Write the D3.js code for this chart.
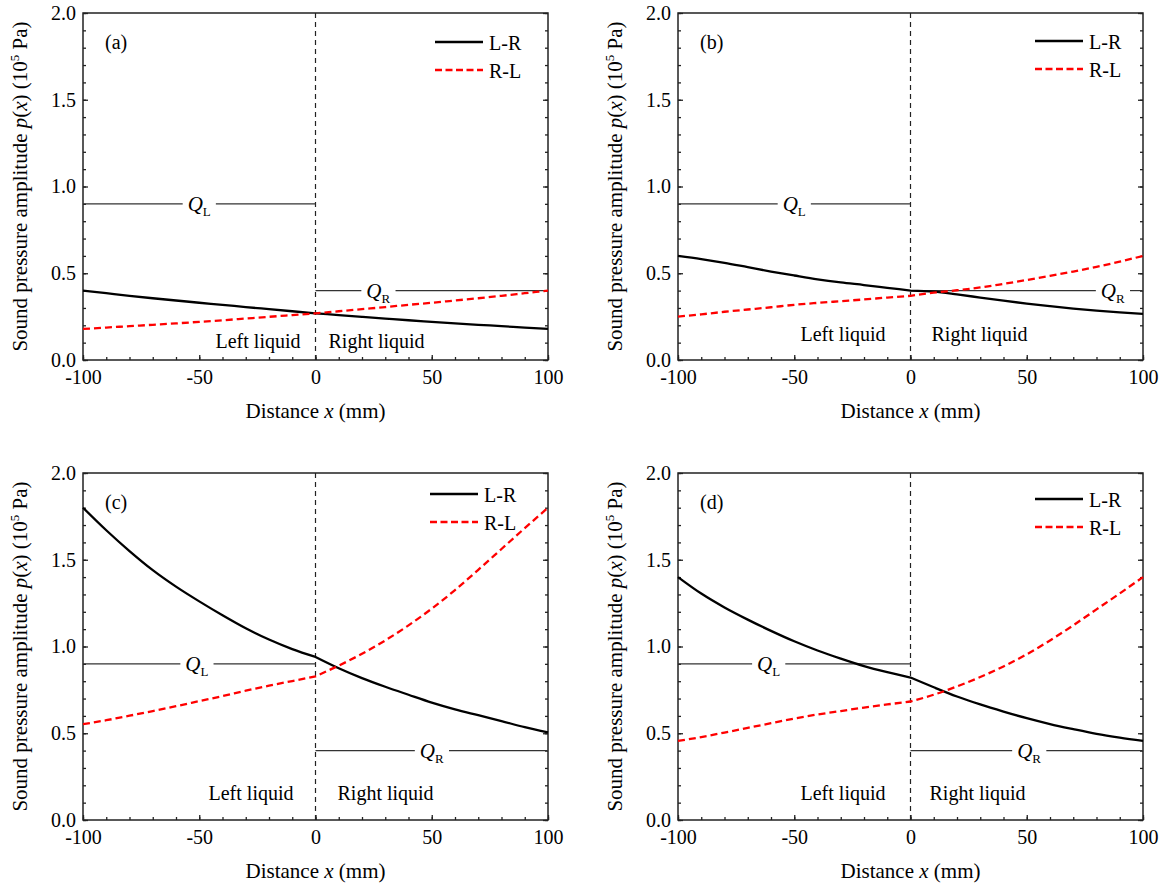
<!DOCTYPE html>
<html>
<head>
<meta charset="utf-8">
<script src="https://cdn.jsdelivr.net/npm/d3@7/dist/d3.min.js"></script>
<style>
  body { margin: 0; background: #fff; }
  .frame { fill: none; stroke: #222; stroke-width: 1.5; }
  .tick line { stroke: #222; stroke-width: 1.3; }
  .domain { display: none; }
  .tick text { font-size: 20px; fill: #000; }
</style>
</head>
<body>
<div id="chart"></div>
<script>
// distance along the tube (mm)
var distance = [-100,-90,-80,-70,-60,-50,-40,-30,-20,-10,0,10,20,30,40,50,60,70,80,90,100];

// sound pressure amplitude (10^5 Pa)
var lrA = [0.400,0.385,0.370,0.356,0.343,0.330,0.318,0.305,0.293,0.281,0.269,0.259,0.249,0.239,0.229,0.220,0.211,0.203,0.195,0.187,0.179];
var rlA = [0.179,0.187,0.195,0.203,0.211,0.220,0.229,0.239,0.249,0.259,0.269,0.281,0.293,0.305,0.318,0.330,0.343,0.356,0.370,0.385,0.400];

var lrB = [0.600,0.582,0.560,0.535,0.510,0.487,0.465,0.447,0.432,0.416,0.400,0.394,0.378,0.360,0.342,0.325,0.310,0.296,0.284,0.274,0.266];
var rlB = [0.250,0.263,0.278,0.291,0.304,0.318,0.329,0.339,0.349,0.360,0.370,0.388,0.402,0.418,0.439,0.461,0.485,0.510,0.537,0.567,0.600];

var lrC = [1.800,1.670,1.550,1.440,1.345,1.260,1.180,1.105,1.040,0.985,0.940,0.875,0.818,0.768,0.722,0.677,0.638,0.604,0.570,0.535,0.505];
var rlC = [0.552,0.575,0.601,0.628,0.656,0.685,0.714,0.745,0.774,0.801,0.828,0.890,0.958,1.035,1.122,1.218,1.325,1.442,1.562,1.682,1.800];

var lrD = [1.400,1.305,1.225,1.155,1.090,1.030,0.977,0.930,0.887,0.852,0.821,0.765,0.712,0.666,0.625,0.587,0.553,0.524,0.497,0.475,0.456];
var rlD = [0.456,0.478,0.504,0.531,0.558,0.585,0.608,0.628,0.648,0.666,0.683,0.722,0.770,0.824,0.885,0.955,1.035,1.122,1.214,1.306,1.400];

var xTicks = [-100,-50,0,50,100];
var xTickLabels = ["-100","-50","0","50","100"];
var yTicks = [0,0.5,1,1.5,2];
var yTickLabels = ["0.0","0.5","1.0","1.5","2.0"];

var panelLabels = ["(a)","(b)","(c)","(d)"];
var seriesNames = ["L-R","R-L"];
var liquidNames = ["Left liquid","Right liquid"];

// Q_L / Q_R reference levels and where their labels sit (mm)
var qLevels = [0.9, 0.4];
var qLeftAt = [-50,-50,-51,-61];
var qRightAt = [27,87,50,51];

var FONT = "Liberation Serif";

var svg = d3.select("#chart").append("svg")
    .attr("width", 1165)
    .attr("height", 889)
    .attr("font-family", FONT);

svg.append("rect").attr("width", 1165).attr("height", 889).attr("fill", "#fff");

var W = 465, H = 347;

var panels = [
  {left: 83,  top: 13,  lr: lrA, rl: rlA, leg: [-113, 29], liq: [15, 13, 12]},
  {left: 678, top: 13,  lr: lrB, rl: rlB, leg: [-108, 28], liq: [25, 21, 19]},
  {left: 83,  top: 473, lr: lrC, rl: rlC, leg: [-118, 21], liq: [22, 22, 20]},
  {left: 678, top: 473, lr: lrD, rl: rlD, leg: [-108, 26], liq: [25, 19, 20]}
];

var x = d3.scaleLinear().domain([-100, 100]).range([0, W]);
var y = d3.scaleLinear().domain([0, 2]).range([H, 0]);

var line = d3.line()
    .curve(d3.curveMonotoneX)
    .x(function(d){ return x(d[0]); })
    .y(function(d){ return y(d[1]); });

// each liquid is smoothed on its own so the kink at the interface stays
function curvePath(vals) {
  var pts = distance.map(function(d, i){ return [d, vals[i]]; });
  var leftPts = pts.filter(function(d){ return d[0] <= 0; });
  var rightPts = pts.filter(function(d){ return d[0] >= 0; });
  return line(leftPts) + line(rightPts).replace(/^M/, "L");
}

function qLabel(g, cx, level, sub, x0, x1) {
  var t = g.append("text")
      .attr("x", x(cx))
      .attr("y", y(level) + 7)
      .attr("text-anchor", "middle")
      .attr("font-size", 21);
  t.append("tspan").attr("font-style", "italic").text("Q");
  t.append("tspan").attr("font-size", 13).attr("dy", 5).text(sub);
  var bb = t.node().getBBox();
  g.append("line")
      .attr("x1", x(x0)).attr("x2", bb.x - 5)
      .attr("y1", y(level)).attr("y2", y(level))
      .attr("stroke", "#333").attr("stroke-width", 1.2);
  g.append("line")
      .attr("x1", bb.x + bb.width + 5).attr("x2", x(x1))
      .attr("y1", y(level)).attr("y2", y(level))
      .attr("stroke", "#333").attr("stroke-width", 1.2);
}

panels.forEach(function(p, i) {
  var g = svg.append("g").attr("transform", "translate(" + p.left + "," + p.top + ")");

  //-------------------axes----------------------------------------------------
  // minor ticks
  g.append("g")
      .attr("transform", "translate(0," + H + ")")
      .call(d3.axisBottom(x).ticks(20).tickSize(-3).tickFormat(""));
  g.append("g")
      .call(d3.axisLeft(y).ticks(20).tickSize(-3).tickFormat(""));
  g.append("g")
      .attr("transform", "translate(" + W + ",0)")
      .call(d3.axisLeft(y).ticks(20).tickSize(3).tickFormat(""));

  // major ticks + labels
  g.append("g")
      .attr("transform", "translate(0," + H + ")")
      .call(d3.axisBottom(x).tickValues(xTicks).tickSize(-5).tickPadding(10)
          .tickFormat(function(d, k){ return xTickLabels[k]; }))
      .attr("font-family", FONT);
  g.append("g")
      .call(d3.axisLeft(y).tickValues(yTicks).tickSize(-5).tickPadding(7)
          .tickFormat(function(d, k){ return yTickLabels[k]; }))
      .attr("font-family", FONT);
  g.append("g")
      .attr("transform", "translate(" + W + ",0)")
      .call(d3.axisLeft(y).tickValues(yTicks).tickSize(5).tickFormat(""));

  g.append("rect").attr("class", "frame").attr("width", W).attr("height", H);

  // interface
  g.append("line")
      .attr("x1", x(0)).attr("x2", x(0))
      .attr("y1", 0).attr("y2", H)
      .attr("stroke", "#222").attr("stroke-width", 1.2)
      .attr("stroke-dasharray", "5,4");

  //-------------------annotations---------------------------------------------
  qLabel(g, qLeftAt[i], qLevels[0], "L", -100, 0);
  qLabel(g, qRightAt[i], qLevels[1], "R", 0, 100);

  g.append("text")
      .attr("x", x(0) - p.liq[0]).attr("y", H - p.liq[2])
      .attr("text-anchor", "end").attr("font-size", 20)
      .text(liquidNames[0]);
  g.append("text")
      .attr("x", x(0) + p.liq[1]).attr("y", H - p.liq[2])
      .attr("text-anchor", "start").attr("font-size", 20)
      .text(liquidNames[1]);

  g.append("text")
      .attr("x", 22).attr("y", 36)
      .attr("font-size", 20)
      .text(panelLabels[i]);

  //-------------------curves--------------------------------------------------
  g.append("path")
      .attr("d", curvePath(p.lr))
      .attr("fill", "none").attr("stroke", "#000").attr("stroke-width", 2.3);
  g.append("path")
      .attr("d", curvePath(p.rl))
      .attr("fill", "none").attr("stroke", "#ff0000").attr("stroke-width", 2.3)
      .attr("stroke-dasharray", "7,4");

  //-------------------legend--------------------------------------------------
  var lx = W + p.leg[0], ly = p.leg[1];
  seriesNames.forEach(function(name, k) {
    g.append("line")
        .attr("x1", lx).attr("x2", lx + 48)
        .attr("y1", ly + k * 28).attr("y2", ly + k * 28)
        .attr("stroke", k === 0 ? "#000" : "#ff0000")
        .attr("stroke-width", 2.3)
        .attr("stroke-dasharray", k === 0 ? null : "7,3.5");
    g.append("text")
        .attr("x", lx + 54).attr("y", ly + k * 28 + 8)
        .attr("font-size", 20)
        .text(name);
  });

  //-------------------axis titles---------------------------------------------
  var xt = g.append("text")
      .attr("x", W / 2).attr("y", H + 58)
      .attr("text-anchor", "middle").attr("font-size", 21);
  xt.append("tspan").text("Distance ");
  xt.append("tspan").attr("font-style", "italic").text("x");
  xt.append("tspan").text(" (mm)");

  var yt = g.append("text")
      .attr("text-anchor", "middle")
      .attr("font-size", 21)
      .attr("transform", "translate(-56," + (H / 2) + ")rotate(-90)");
  yt.append("tspan").text("Sound pressure amplitude  ");
  yt.append("tspan").attr("font-style", "italic").text("p");
  yt.append("tspan").text("(");
  yt.append("tspan").attr("font-style", "italic").text("x");
  yt.append("tspan").text(") (10");
  yt.append("tspan").attr("font-size", 13).attr("dy", -8).text("5");
  yt.append("tspan").attr("dy", 8).text(" Pa)");
});
</script>
</body>
</html>
